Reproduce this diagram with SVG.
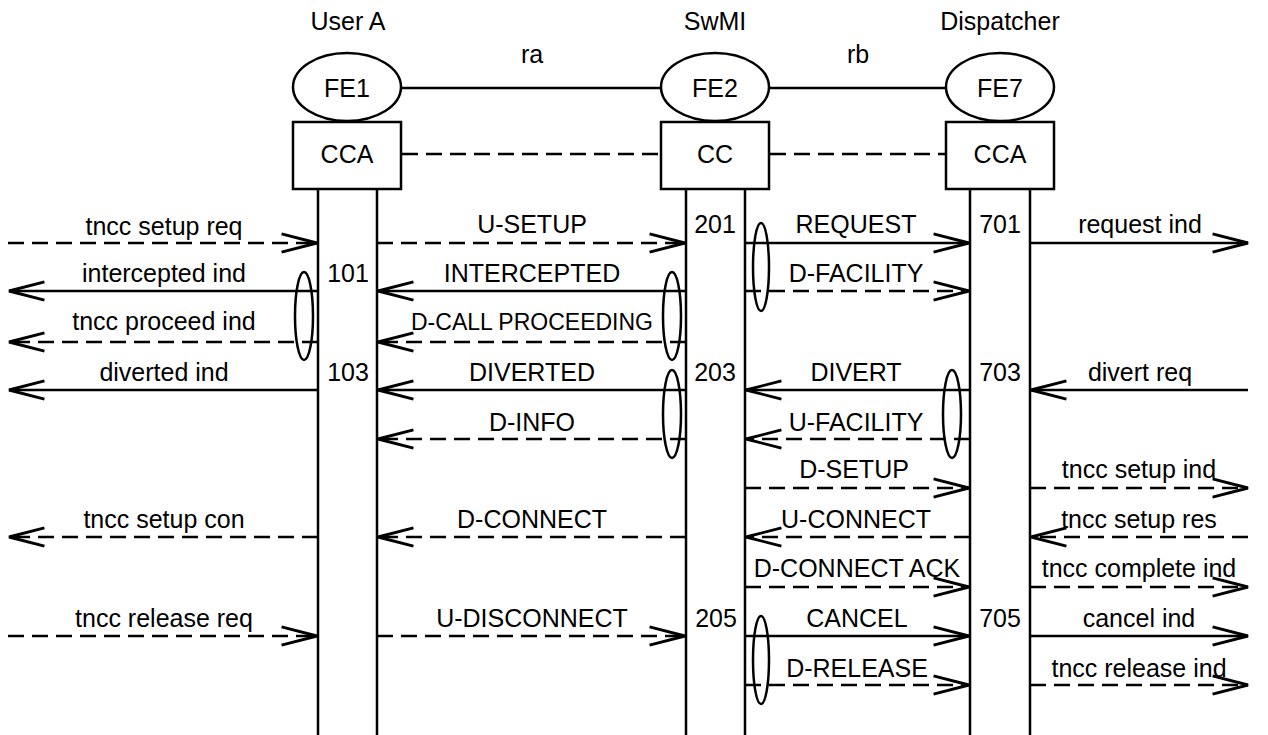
<svg xmlns="http://www.w3.org/2000/svg" width="1268" height="735" viewBox="0 0 1268 735">
<defs>
<marker id="ah" markerUnits="userSpaceOnUse" markerWidth="40" markerHeight="24" refX="0" refY="0" viewBox="-33 -10 35 20" orient="auto" overflow="visible">
<path d="M-31,-8 L0,0 L-31,8" fill="none" stroke="#000" stroke-width="2.5"/>
</marker>
</defs>
<style>
text{font-family:"Liberation Sans",Arial,sans-serif;font-size:25px;fill:#000;text-anchor:middle}
.ln{stroke:#000;stroke-width:2.5;fill:none}
.d{stroke-dasharray:16 8}
.m{stroke:#000;stroke-width:2.5;fill:none;marker-end:url(#ah)}
.e{stroke:#000;stroke-width:2.5;fill:none}
.sh{fill:#fff;stroke:#000;stroke-width:2.5}
</style>
<rect width="1268" height="735" fill="#fff"/>

<g id="lifelines">
<line class="ln" x1="318" y1="189" x2="318" y2="735"/>
<line class="ln" x1="377" y1="189" x2="377" y2="735"/>
<line class="ln" x1="686" y1="189" x2="686" y2="735"/>
<line class="ln" x1="745" y1="189" x2="745" y2="735"/>
<line class="ln" x1="970" y1="189" x2="970" y2="735"/>
<line class="ln" x1="1030" y1="189" x2="1030" y2="735"/>
</g>

<g id="links">
<line class="ln" x1="401" y1="88" x2="661" y2="88"/>
<line class="ln" x1="769" y1="88" x2="946" y2="88"/>
<line class="ln d" x1="402" y1="154" x2="660" y2="154"/>
<line class="ln d" x1="770" y1="154" x2="945" y2="154"/>
<text x="532" y="63">ra</text>
<text x="858" y="63">rb</text>
</g>

<g id="userA">
<text x="348" y="30">User A</text>
<ellipse class="sh" cx="347" cy="87" rx="54" ry="34"/>
<text x="347" y="97">FE1</text>
<rect class="sh" x="293" y="122" width="108" height="67"/>
<text x="347" y="163">CCA</text>
</g>

<g id="swmi">
<text x="715" y="30">SwMI</text>
<ellipse class="sh" cx="715" cy="87" rx="54" ry="34"/>
<text x="715" y="97">FE2</text>
<rect class="sh" x="661" y="122" width="108" height="67"/>
<text x="715" y="163">CC</text>
</g>

<g id="dispatcher">
<text x="1000" y="30">Dispatcher</text>
<ellipse class="sh" cx="1000" cy="87" rx="54" ry="34"/>
<text x="1000" y="97">FE7</text>
<rect class="sh" x="946" y="122" width="108" height="67"/>
<text x="1000" y="163">CCA</text>
</g>

<g id="connectors">
<line class="m d" x1="8" y1="243" x2="317" y2="243"/>
<line class="m d" x1="377" y1="243" x2="685" y2="243"/>
<line class="m" x1="745" y1="243" x2="969" y2="243"/>
<line class="m" x1="1030" y1="243" x2="1248" y2="243"/>
<line class="m" x1="318" y1="291" x2="9" y2="291"/>
<line class="m" x1="686" y1="291" x2="378" y2="291"/>
<line class="m d" x1="745" y1="291" x2="969" y2="291"/>
<line class="m d" x1="318" y1="342" x2="9" y2="342"/>
<line class="m d" x1="686" y1="342" x2="378" y2="342"/>
<line class="m" x1="318" y1="390" x2="9" y2="390"/>
<line class="m" x1="686" y1="390" x2="378" y2="390"/>
<line class="m" x1="970" y1="390" x2="746" y2="390"/>
<line class="m" x1="1248" y1="390" x2="1031" y2="390"/>
<line class="m d" x1="686" y1="439" x2="378" y2="439"/>
<line class="m d" x1="970" y1="439" x2="746" y2="439"/>
<line class="m d" x1="745" y1="488" x2="969" y2="488"/>
<line class="m d" x1="1030" y1="488" x2="1248" y2="488"/>
<line class="m d" x1="318" y1="537" x2="9" y2="537"/>
<line class="m d" x1="686" y1="537" x2="378" y2="537"/>
<line class="m d" x1="970" y1="537" x2="746" y2="537"/>
<line class="m d" x1="1248" y1="537" x2="1031" y2="537"/>
<line class="m d" x1="745" y1="587" x2="969" y2="587"/>
<line class="m d" x1="1030" y1="587" x2="1248" y2="587"/>
<line class="m d" x1="8" y1="636" x2="317" y2="636"/>
<line class="m d" x1="377" y1="636" x2="685" y2="636"/>
<line class="m" x1="745" y1="636" x2="969" y2="636"/>
<line class="m" x1="1030" y1="636" x2="1248" y2="636"/>
<line class="m d" x1="745" y1="685" x2="969" y2="685"/>
<line class="m d" x1="1030" y1="685" x2="1248" y2="685"/>

<ellipse class="e" cx="304" cy="316" rx="9" ry="44"/>
<ellipse class="e" cx="672" cy="316" rx="9" ry="44"/>
<ellipse class="e" cx="672" cy="414" rx="9" ry="44"/>
<ellipse class="e" cx="761" cy="267" rx="8" ry="44"/>
<ellipse class="e" cx="952" cy="414" rx="9" ry="44"/>
<ellipse class="e" cx="761" cy="660" rx="8" ry="44"/>
</g>

<g id="labels">
<text x="164" y="235">tncc setup req</text>
<text x="532" y="233">U-SETUP</text>
<text x="715" y="233">201</text>
<text x="856" y="233">REQUEST</text>
<text x="1000" y="233">701</text>
<text x="1140" y="233">request ind</text>

<text x="164" y="282">intercepted ind</text>
<text x="348" y="282">101</text>
<text x="532" y="282">INTERCEPTED</text>
<text x="856" y="282">D-FACILITY</text>

<text x="164" y="330">tncc proceed ind</text>
<text x="532" y="330" style="font-size:23px">D-CALL PROCEEDING</text>

<text x="164" y="381">diverted ind</text>
<text x="348" y="381">103</text>
<text x="532" y="381">DIVERTED</text>
<text x="715" y="381">203</text>
<text x="856" y="381">DIVERT</text>
<text x="1000" y="381">703</text>
<text x="1140" y="381">divert req</text>

<text x="532" y="431">D-INFO</text>
<text x="856" y="431">U-FACILITY</text>

<text x="854" y="478">D-SETUP</text>
<text x="1139" y="478">tncc setup ind</text>

<text x="164" y="528">tncc setup con</text>
<text x="532" y="528">D-CONNECT</text>
<text x="856" y="528">U-CONNECT</text>
<text x="1139" y="528">tncc setup res</text>

<text x="857" y="577">D-CONNECT ACK</text>
<text x="1139" y="577">tncc complete ind</text>

<text x="164" y="627">tncc release req</text>
<text x="532" y="627">U-DISCONNECT</text>
<text x="716" y="627">205</text>
<text x="857" y="627">CANCEL</text>
<text x="1000" y="627">705</text>
<text x="1139" y="627">cancel ind</text>

<text x="857" y="677">D-RELEASE</text>
<text x="1139" y="677">tncc release ind</text>
</g>
</svg>
